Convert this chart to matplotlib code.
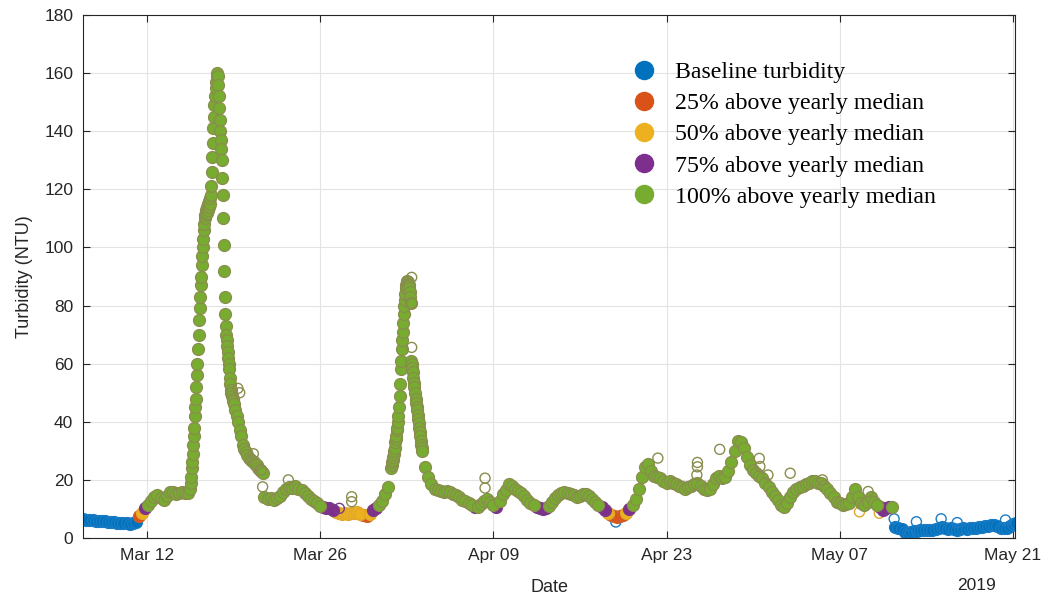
import numpy as np
import matplotlib
matplotlib.use("Agg")
import matplotlib.pyplot as plt
import matplotlib.dates as mdates
from matplotlib.lines import Line2D
from datetime import datetime, timedelta

T0 = datetime(2019, 3, 1)   # times below are days after this

# ---- turbidity record (NTU) in stretches ----
# Mar 6 - Mar 15, 6-hourly
a_start, a_step = 5.85, 0.25
a_ntu = [6.4, 6.3, 6.3, 6.1, 6.0, 5.9, 5.8, 5.7, 5.6, 5.5, 5.4, 5.3, 5.2, 5.1, 5.0, 4.9,
         5.0, 5.6, 7.4, 8.6, 10.2, 11.5, 12.6, 14.0, 14.8, 13.8, 13.0, 14.5, 16.0, 15.8,
         15.2, 15.5, 15.8, 15.4, 15.6]

# first storm, hourly
p1_start, p1_step = 14.5, 1 / 24
p1_ntu = [17, 19, 21, 24, 26, 29, 32, 35, 38, 42, 45, 48, 52, 56, 60, 65, 70, 75, 79, 83,
          87, 90, 94, 97, 100, 103, 106, 108, 110, 111, 112, 113, 112, 114, 113, 115, 114,
          116, 115, 117, 118, 121, 126, 131, 136, 141, 145, 149, 152, 155, 157, 159, 160,
          159, 156, 152, 148, 144, 140, 137, 134, 130, 124, 118, 110, 101, 92, 83, 77, 73,
          70, 68, 66, 64, 62, 60, 58, 55, 53, 51, 50, 49, 48, 47, 46]

# first storm tail, 3-hourly
p1t_start, p1t_step = 18.125, 0.125
p1t_ntu = [44, 42, 40, 37, 35, 32, 30.5, 29.5, 28.5, 27.5, 27, 26.5, 26, 25.5, 25, 24,
           23.5, 23, 22.5]

# Mar 21 - Mar 31, 6-hourly
b_start, b_step = 20.5, 0.25
b_ntu = [14.0, 13.5, 13.8, 13.2, 13.6, 14.5, 15.8, 17.0, 17.5, 17.2, 17.8, 17.0, 16.5,
         15.5, 14.5, 13.5, 12.8, 12.0, 11.0, 10.6, 10.4, 10.2, 9.6, 9.0, 8.6, 8.4, 8.5,
         8.3, 8.6, 8.5, 8.8, 8.4, 7.9, 7.6, 8.2, 9.5, 10.4, 11.5, 12.6, 15.0, 17.5]

# second storm, hourly
p2_start, p2_step = 30.75, 1 / 24
p2_ntu = [24, 25, 26, 27, 28, 29, 30, 31, 33, 34, 35, 37, 38, 40, 42, 45, 49, 53, 58, 61,
          65, 68, 71, 74, 77, 80, 82, 84, 86, 87, 88, 88.5, 88, 87.5, 87, 86, 84.5, 83, 81,
          61, 60, 58.5, 57, 55, 53.5, 52, 50, 48, 46.5, 45, 44, 42.5, 41, 39.5, 38, 36.5,
          35, 33.5, 32, 31, 30]

# Apr 3 - May 13, 6-hourly
c_start, c_step = 33.5, 0.25
c_ntu = [24.5, 21, 18.5, 17, 16.5, 16.2, 16.0, 16.3, 15.8, 15.2, 14.8, 14.0, 13.2, 12.6,
         12.0, 11.2, 10.6, 10.8, 11.8, 12.8, 13.5, 12.5, 11.4, 10.5, 12.8, 15.0, 16.5, 18.5,
         17.8, 16.8, 16.2, 15.5, 14.5, 13.0, 12.0, 11.2, 10.5, 10.2, 10.0, 10.3, 11.0, 12.5,
         13.8, 14.8, 15.5, 15.8, 15.5, 15.0, 14.8, 14.2, 14.5, 15.0, 15.2, 14.5, 13.5, 12.5,
         11.5, 10.5, 9.5, 8.5, 7.8, 7.5, 7.2, 7.5, 7.8, 8.6, 10.0, 11.5, 13.5, 17.0, 21.0,
         24.5, 25.5, 23.0, 21.5, 21.0, 20.5, 19.5, 19.0, 19.5, 19.0, 18.5, 18.0, 17.5, 17.0,
         17.5, 18.0, 18.5, 19.0, 18.0, 17.0, 16.5, 17.0, 18.5, 20.5, 21.5, 20.5, 21.0, 23.0,
         26.0, 30.0, 33.5, 33.0, 31.0, 28.0, 25.0, 23.5, 22.5, 21.5, 20.5, 19.0, 17.5, 16.0,
         14.5, 13.0, 11.5, 10.8, 12.0, 14.0, 16.0, 17.0, 17.5, 18.0, 18.5, 19.0, 19.5, 19.5,
         19.0, 19.0, 18.0, 17.0, 15.5, 14.0, 12.5, 12.0, 11.5, 11.8, 12.0, 14.0, 17.0, 14.0,
         12.0, 11.5, 12.5, 14.0, 12.5, 11.2, 10.5, 9.8, 10.2, 10.5, 10.8]

# May 13 - May 21, 6-hourly
d_start, d_step = 71.5, 0.25
d_ntu = [3.8, 3.5, 3.0, 2.2, 1.8, 2.0, 2.5, 2.3, 2.6, 2.9, 2.8, 2.6, 2.9, 3.2, 3.5, 3.9,
         3.6, 3.2, 3.4, 3.0, 2.9, 3.1, 3.3, 3.2, 3.4, 3.6, 3.5, 3.7, 3.9, 4.1, 4.3, 4.6,
         4.4, 4.0, 3.6, 3.4, 3.6, 4.2, 4.8, 5.0]

# isolated spikes
spike_day = [18.35, 18.5, 19.6, 20.27, 20.35, 22.43, 26.55, 27.55, 27.55, 32.4, 32.42,
             32.4, 38.33, 38.33, 48.9, 52.3, 55.5, 55.45, 55.5, 57.3, 60.5, 60.55, 61.2,
             63.0, 65.6, 68.6, 69.3, 70.2, 71.4, 72.6, 73.2, 75.2, 76.5, 80.4]
spike_ntu = [51.5, 50, 29, 23.4, 17.6, 20.0, 10.2, 14.2, 12.5, 89.7, 80.8, 65.6, 20.6,
             17.2, 5.5, 27.5, 26, 21.7, 24.5, 30.5, 27.4, 24.6, 21.7, 22.3, 20.0, 9.0,
             16.0, 8.5, 6.6, 1.0, 5.6, 6.6, 5.3, 6.2]

YEARLY_MEDIAN = 5.4
labels = ["Baseline turbidity", "25% above yearly median", "50% above yearly median",
          "75% above yearly median", "100% above yearly median"]
colors = ["#0072BD", "#D95319", "#EDB120", "#7E2F8E", "#77AC30"]
edges = ["#1a7cc4", "#d0602a", "#e0a82a", "#7a3a86", "#8a8c4e"]


def stretch(start, step, vals):
    days = start + step * np.arange(len(vals))
    return days, np.array(vals, dtype=float)


parts = [stretch(a_start, a_step, a_ntu), stretch(p1_start, p1_step, p1_ntu),
         stretch(p1t_start, p1t_step, p1t_ntu), stretch(b_start, b_step, b_ntu),
         stretch(p2_start, p2_step, p2_ntu), stretch(c_start, c_step, c_ntu),
         stretch(d_start, d_step, d_ntu)]
day = np.concatenate([p[0] for p in parts])
ntu = np.concatenate([p[1] for p in parts])


def level(v):
    cuts = YEARLY_MEDIAN * np.array([1.25, 1.5, 1.75, 2.0])
    return np.searchsorted(cuts, v, side="right")


def to_dates(d):
    return [T0 + timedelta(days=float(x)) for x in d]


plt.rcParams["font.family"] = ["Liberation Sans", "DejaVu Sans"]
fig = plt.figure(figsize=(10.49, 6.0), dpi=100)
ax = fig.add_axes([83 / 1049, 62 / 600, 932 / 1049, 523 / 600])

lev = level(ntu)
slev = level(np.array(spike_ntu))
sd = np.array(spike_day)
sv = np.array(spike_ntu)
for k in range(5):
    m = lev == k
    if m.any():
        ax.scatter(to_dates(day[m]), ntu[m], s=74, facecolors=colors[k], edgecolors=edges[k],
                   linewidths=0.9, zorder=2 + k)
    m = slev == k
    if m.any():
        ax.scatter(to_dates(sd[m]), sv[m], s=52, facecolors="none", edgecolors=edges[k],
                   linewidths=1.0, zorder=2 + k)

ax.set_xlim(T0 + timedelta(days=5.83), T0 + timedelta(days=81.17))
ax.set_ylim(0, 180)
ax.set_yticks(np.arange(0, 181, 20))
ticks = [datetime(2019, 3, 12), datetime(2019, 3, 26), datetime(2019, 4, 9),
         datetime(2019, 4, 23), datetime(2019, 5, 7), datetime(2019, 5, 21)]
ax.set_xticks(ticks)
ax.xaxis.set_major_formatter(mdates.DateFormatter("%b %d"))
ax.grid(True, color="#e3e3e3", linewidth=0.8)
ax.set_axisbelow(True)
ax.tick_params(direction="in", length=5, width=0.8, labelsize=12.5, colors="#262626",
               top=True, right=True, pad=7)
for sp in ax.spines.values():
    sp.set_color("#262626")
    sp.set_linewidth(0.8)
ax.set_ylabel("Turbidity (NTU)", fontsize=13, color="#262626", labelpad=8)
ax.set_xlabel("Date", fontsize=13, color="#262626", labelpad=12)
ax.text(0.979, -0.077, "2019", transform=ax.transAxes, ha="right", va="top",
        fontsize=12.5, color="#262626")

handles = [Line2D([], [], ls="none", marker="o", markersize=13, color=c) for c in colors]
leg = ax.legend(handles, labels, loc="upper left", bbox_to_anchor=(0.566, 0.929),
                frameon=False, prop={"family": "Liberation Serif", "size": 17.2},
                handletextpad=0.3, labelspacing=0.39, borderaxespad=0)

fig.savefig("out.png", dpi=100)
